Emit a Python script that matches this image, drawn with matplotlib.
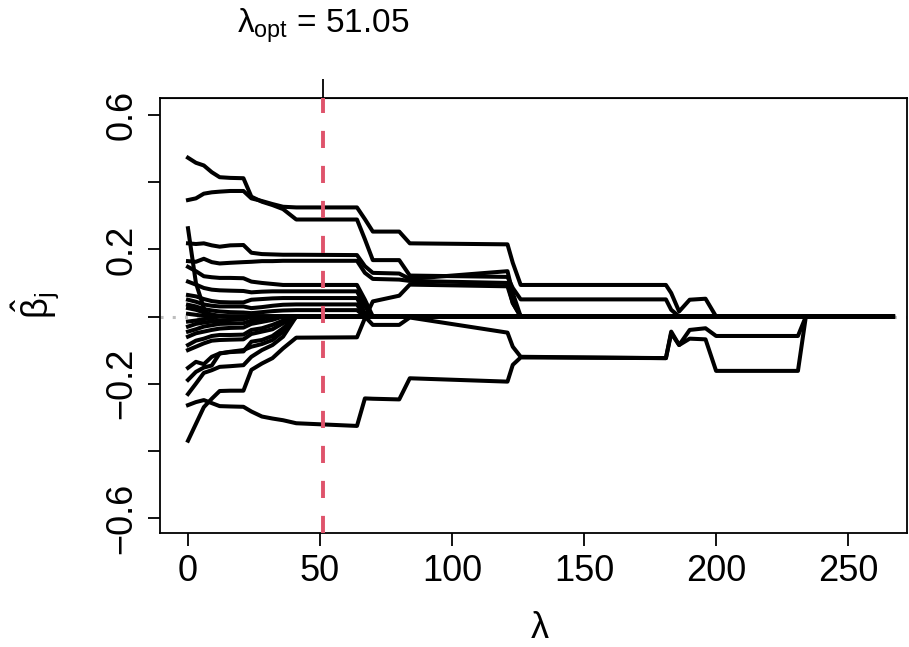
import matplotlib
matplotlib.use("Agg")
import matplotlib.pyplot as plt

plt.rcParams['font.family'] = ['Liberation Sans', 'DejaVu Sans']
plt.rcParams['mathtext.fontset'] = 'custom'
plt.rcParams['mathtext.rm'] = 'Liberation Sans'
plt.rcParams['mathtext.it'] = 'Liberation Sans'
plt.rcParams['mathtext.bf'] = 'Liberation Sans:bold'

# lambda grid shared by all coefficient paths
lam = [0, 3, 6, 9, 12, 16, 21, 24, 28, 32, 36, 41, 64, 67, 70, 80, 84,
       121, 123, 126, 181, 183, 186, 190, 196, 200, 231, 234, 267]
lam_opt = 51.05

# coefficient paths
b01 = [0.473, 0.458, 0.450, 0.430, 0.415, 0.413, 0.412, 0.357, 0.342, 0.332, 0.320, 0.289, 0.289, 0.230,
       0.168, 0.168, 0.122, 0.118, 0.085, 0.051, 0.051, 0.020, 0, 0, 0, 0, 0, 0, 0]
b02 = [0.347, 0.352, 0.366, 0.370, 0.372, 0.374, 0.374, 0.352, 0.344, 0.335, 0.327, 0.325, 0.325, 0.290,
       0.253, 0.253, 0.218, 0.215, 0.160, 0.094, 0.094, 0.070, 0.015, 0.050, 0.053, 0, 0, 0, 0]
b03 = [0.218, 0.216, 0.218, 0.212, 0.208, 0.212, 0.213, 0.190, 0.186, 0.185, 0.184, 0.184, 0.183, 0.150,
       0.130, 0.128, 0.112, 0.135, 0.070, 0, 0, 0, 0, 0, 0, 0, 0, 0, 0]
b04 = [0.165, 0.163, 0.172, 0.162, 0.158, 0.160, 0.162, 0.163, 0.165, 0.165, 0.166, 0.166, 0.166, 0.130,
       0.112, 0.110, 0.106, 0.100, 0.040, 0, 0, 0, 0, 0, 0, 0, 0, 0, 0]
b05 = [0.148, 0.135, 0.120, 0.117, 0.115, 0.115, 0.114, 0.104, 0.100, 0.097, 0.094, 0.094, 0.094, 0.050,
       0, 0, 0, 0, 0, 0, 0, 0, 0, 0, 0, 0, 0, 0, 0]
b06 = [0.104, 0.095, 0.085, 0.080, 0.078, 0.077, 0.076, 0.072, 0.074, 0.075, 0.075, 0.075, 0.075, 0.030,
       0, 0, 0, 0, 0, 0, 0, 0, 0, 0, 0, 0, 0, 0, 0]
b07 = [0.064, 0.060, 0.052, 0.046, 0.043, 0.042, 0.042, 0.050, 0.052, 0.054, 0.055, 0.055, 0.055, 0.010,
       0, 0, 0, 0, 0, 0, 0, 0, 0, 0, 0, 0, 0, 0, 0]
b08 = [0.263, 0.100, 0.025, -0.012, -0.018, -0.010, -0.005, 0, 0, 0, 0, 0, 0, 0,
       0, 0, 0, 0, 0, 0, 0, 0, 0, 0, 0, 0, 0, 0, 0]
b09 = [0.050, 0.044, 0.036, 0.032, 0.030, 0.030, 0.030, 0.025, 0.028, 0.032, 0.035, 0.036, 0.036, 0,
       0, 0, 0, 0, 0, 0, 0, 0, 0, 0, 0, 0, 0, 0, 0]
b10 = [0.035, 0.030, 0.022, 0.018, 0.015, 0.013, 0.012, 0.010, 0.013, 0.016, 0.018, 0.019, 0.019, 0,
       -0.025, -0.025, -0.003, -0.048, -0.090, -0.120, -0.124, -0.045, -0.085, -0.040, -0.035, -0.058, -0.058, 0, 0]
b11 = [0.025, 0.020, 0.012, 0.006, 0.002, 0, 0, 0, 0, 0, 0, 0, 0, 0,
       0, 0, 0, 0, 0, 0, 0, 0, 0, 0, 0, 0, 0, 0, 0]
b12 = [0.008, 0.005, 0.002, 0, 0, 0, 0, 0, 0, 0, 0, 0, 0, 0,
       0, 0, 0, 0, 0, 0, 0, 0, 0, 0, 0, 0, 0, 0, 0]
b13 = [-0.015, -0.012, -0.008, -0.004, 0, 0, 0, 0, 0, 0, 0, 0, 0, 0,
       0, 0, 0, 0, 0, 0, 0, 0, 0, 0, 0, 0, 0, 0, 0]
b14 = [-0.030, -0.022, -0.018, -0.015, -0.012, -0.010, -0.008, 0, 0, 0, 0, 0, 0, 0,
       0, 0, 0, 0, 0, 0, 0, 0, 0, 0, 0, 0, 0, 0, 0]
b15 = [-0.045, -0.038, -0.030, -0.026, -0.022, -0.021, -0.020, -0.012, -0.006, 0, 0, 0, 0, 0,
       0, 0, 0, 0, 0, 0, 0, 0, 0, 0, 0, 0, 0, 0, 0]
b16 = [-0.060, -0.050, -0.045, -0.040, -0.036, -0.034, -0.033, -0.022, -0.016, -0.010, 0, 0, 0, 0,
       0, 0, 0, 0, 0, 0, 0, 0, 0, 0, 0, 0, 0, 0, 0]
b17 = [-0.085, -0.072, -0.066, -0.058, -0.055, -0.055, -0.054, -0.040, -0.035, -0.025, -0.012, 0, 0, 0,
       0, 0, 0, 0, 0, 0, 0, 0, 0, 0, 0, 0, 0, 0, 0]
b18 = [-0.100, -0.090, -0.080, -0.072, -0.070, -0.069, -0.068, -0.052, -0.045, -0.038, -0.020, 0, 0, 0,
       0, 0, 0, 0, 0, 0, 0, 0, 0, 0, 0, 0, 0, 0, 0]
b19 = [-0.153, -0.135, -0.142, -0.120, -0.110, -0.106, -0.104, -0.075, -0.070, -0.058, -0.035, 0, 0, 0,
       0, 0, 0, 0, 0, 0, 0, 0, 0, 0, 0, 0, 0, 0, 0]
b20 = [-0.189, -0.165, -0.152, -0.146, -0.110, -0.105, -0.100, -0.090, -0.082, -0.070, -0.045, 0, 0, 0,
       0, 0, 0, 0, 0, 0, 0, 0, 0, 0, 0, 0, 0, 0, 0]
b21 = [-0.231, -0.200, -0.168, -0.160, -0.150, -0.148, -0.145, -0.120, -0.100, -0.085, -0.060, 0, 0, 0,
       0, 0, 0, 0, 0, 0, 0, 0, 0, 0, 0, 0, 0, 0, 0]
b22 = [-0.264, -0.255, -0.249, -0.258, -0.267, -0.268, -0.269, -0.283, -0.298, -0.304, -0.309, -0.318, -0.326, -0.244,
       -0.245, -0.247, -0.184, -0.194, -0.144, -0.122, -0.124, -0.050, -0.085, -0.066, -0.068, -0.162, -0.162, 0, 0]
b23 = [-0.370, -0.320, -0.270, -0.245, -0.222, -0.221, -0.221, -0.159, -0.140, -0.124, -0.095, -0.063, -0.062, -0.005,
       0.045, 0.062, 0.095, 0.090, 0.040, 0, 0, 0, 0, 0, 0, 0, 0, 0, 0]

paths = [b01, b02, b03, b04, b05, b06, b07, b08, b09, b10, b11, b12,
         b13, b14, b15, b16, b17, b18, b19, b20, b21, b22, b23]

x_ticks = [0, 50, 100, 150, 200, 250]
y_ticks = [-0.6, -0.4, -0.2, 0.0, 0.2, 0.4, 0.6]
y_labels = ['\u22120.6', '', '\u22120.2', '', '0.2', '', '0.6']

W, H = 909, 647
fig = plt.figure(figsize=(W / 100, H / 100), dpi=100)
ax = fig.add_axes([160 / W, 1 - 533 / H, (907 - 160) / W, (533 - 98) / H])

ax.axhline(0, color='#BEBEBE', ls=(0, (1, 3)), lw=2.2, zorder=1)
for b in paths:
    ax.plot(lam, b, color='black', lw=2.9, solid_joinstyle='round', zorder=2)
ax.axvline(lam_opt, color='#DF536B', lw=2.8, ls=(0, (4.4, 4.6)), zorder=3)

ax.set_xlim(-10.6, 272.3)
ax.set_ylim(-0.645, 0.651)
ax.set_xticks(x_ticks)
ax.set_xticklabels([str(t) for t in x_ticks])
ax.set_yticks(y_ticks)
ax.set_yticklabels(y_labels, rotation=90, va='center')
ax.tick_params(axis='both', direction='out', length=9, width=1.3, labelsize=26, pad=6)
for s in ax.spines.values():
    s.set_linewidth(1.3)

top = ax.secondary_xaxis('top')
top.set_xticks([lam_opt])
top.set_xticklabels([r'$\lambda_{\mathrm{opt}}$ = %.2f' % lam_opt])
top.tick_params(direction='out', length=14, width=1.3, labelsize=24, pad=24)

fig.text(35 / W, 1 - 305 / H, r'$\hat{\beta}_j$', rotation=90, fontsize=26,
         ha='center', va='center')
fig.text(540 / W, 1 - 629 / H, r'$\lambda$', fontsize=26, ha='center', va='center')

fig.savefig('out.png', dpi=100)
